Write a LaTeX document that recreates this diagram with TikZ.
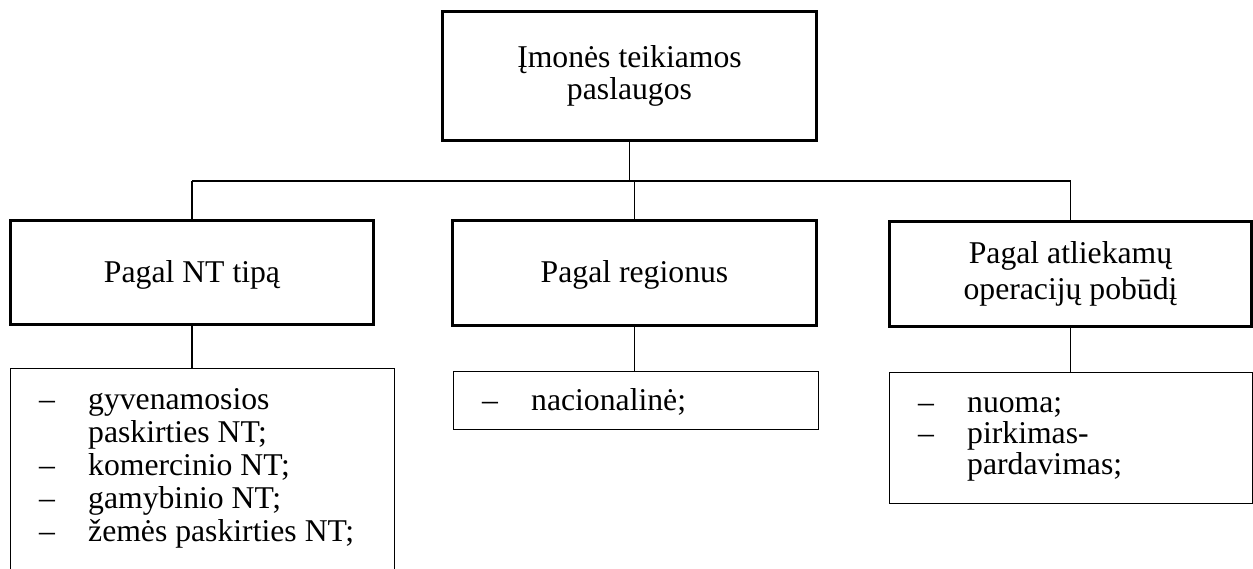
\documentclass[tikz,border=0pt]{standalone}
\usepackage{fontspec}
\setmainfont{Liberation Serif}
% bullet dash and matching indent for the list boxes
\newcommand{\itm}{\makebox[49pt][l]{–}}
\newcommand{\gap}{\hspace*{49pt}}
\begin{document}
\begin{tikzpicture}[x=1pt,y=-1pt,
  headbox/.style={draw, line width=2.4pt, inner sep=0pt, align=center,
                  font=\fontsize{31.7}{32}\selectfont},
  listbox/.style={draw, line width=1.4pt, inner sep=0pt, anchor=north west},
  listtext/.style={anchor=base west, inner sep=0pt,
                   font=\fontsize{31.7}{32}\selectfont},
  link/.style={line width=1.1pt}]
\useasboundingbox (0,0) rectangle (1253,569);
\clip (0,0) rectangle (1253,569);
\fill[white] (0,0) rectangle (1253,569);

% top level
\node[headbox, minimum width=374pt, minimum height=129pt] (root) at (629.5,76)
  {Įmonės teikiamos\\paslaugos};

% second level
\node[headbox, minimum width=363pt, minimum height=104pt,
      text height=21pt, text depth=0pt] (tl) at (192,272.5) {Pagal NT tipą};
\node[headbox, minimum width=364pt, minimum height=105pt,
      text height=20pt, text depth=0pt] (md) at (634.5,273) {Pagal regionus};
\node[headbox, minimum width=362pt, minimum height=105pt,
      font=\fontsize{31.7}{36}\selectfont] (rt) at (1070.5,274)
  {Pagal atliekamų\\operacijų pobūdį};

% bus between levels
\coordinate (bus) at (633,181);
\draw[link] (root.south) -- (root.south |- bus);
\draw[link] (tl.north |- bus) -- (rt.north |- bus);
\draw[link] (tl.north |- bus) -- (tl.north);
\draw[link] (md.north |- bus) -- (md.north);
\draw[link] (rt.north |- bus) -- (rt.north);

% list boxes
\node[listbox, minimum width=384pt, minimum height=240pt] (tll) at (10,368) {};
\node[listbox, minimum width=365pt, minimum height=58pt] (mdl) at (453,371) {};
\node[listbox, minimum width=363pt, minimum height=131pt] (rtl) at (889,372) {};

\draw[link] (tl.south) -- (tl.south |- tll.north);
\draw[link] (md.south) -- (md.south |- mdl.north);
\draw[link] (rt.south) -- (rt.south |- rtl.north);

\node[listtext, font=\fontsize{31.7}{33}\selectfont] (tllT)
  at ([shift={(29,41)}]tll.north west)
  {\begin{tabular}[t]{@{}l@{}}
   \itm gyvenamosios\\
   \gap paskirties NT;\\
   \itm komercinio NT;\\
   \itm gamybinio NT;\\
   \itm žemės paskirties NT;
   \end{tabular}};
\node[listtext] (mdlT) at ([shift={(29,39)}]mdl.north west)
  {\begin{tabular}[t]{@{}l@{}}\itm nacionalinė;\end{tabular}};
\node[listtext, font=\fontsize{31.7}{31}\selectfont] (rtlT)
  at ([shift={(29,40)}]rtl.north west)
  {\begin{tabular}[t]{@{}l@{}}
   \itm nuoma;\\
   \itm pirkimas-\\
   \gap pardavimas;
   \end{tabular}};
\end{tikzpicture}
\end{document}
